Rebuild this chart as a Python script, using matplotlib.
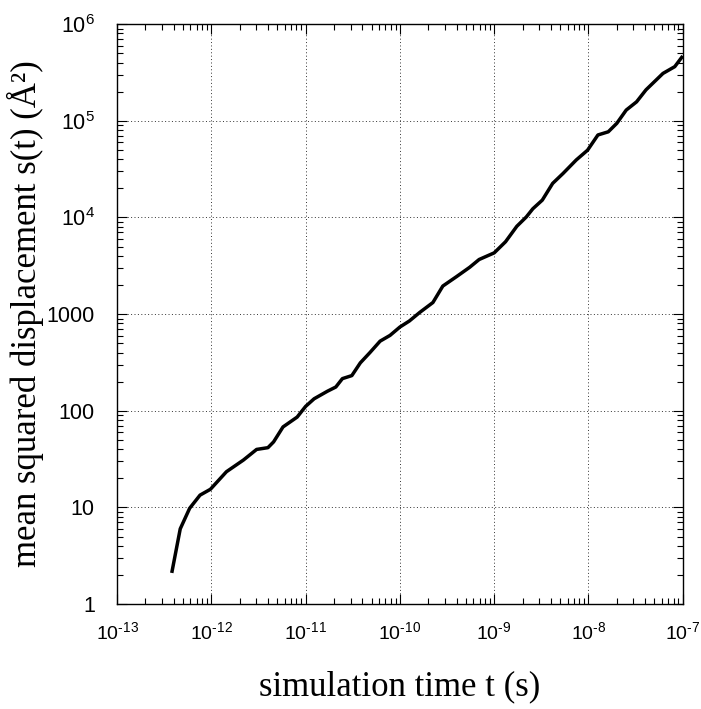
import matplotlib
matplotlib.use('Agg')
import matplotlib.pyplot as plt
import numpy as np
from matplotlib.ticker import LogLocator, FixedLocator, FixedFormatter, NullFormatter

plt.rcParams['mathtext.fontset'] = 'custom'
plt.rcParams['mathtext.rm'] = 'Liberation Sans'
plt.rcParams['mathtext.it'] = 'Liberation Sans'

# log10(t) and s(t)
log_t = [-12.42, -12.33, -12.23, -12.12, -12.01, -11.84, -11.66, -11.52, -11.40,
         -11.34, -11.24, -11.09, -11.0, -10.91, -10.77, -10.68, -10.61, -10.51,
         -10.42, -10.32, -10.21, -10.105, -10.0, -9.9, -9.79, -9.65, -9.545,
         -9.40, -9.26, -9.16, -9.0, -8.88, -8.76, -8.66, -8.59, -8.49, -8.38,
         -8.27, -8.13, -8.01, -7.90, -7.79, -7.70, -7.60, -7.49, -7.39, -7.21,
         -7.085, -7.0]
msd = [2.1, 6.0, 9.8, 13.4, 15.4, 23.4, 30.9, 39.8, 41.5,
       47.6, 68, 86, 111, 133, 159, 176, 215, 231,
       313, 398, 525, 602, 735, 848, 1040, 1318, 1950,
       2440, 3050, 3670, 4300, 5600, 8100, 10100, 12300, 15100, 22500,
       28500, 39300, 49600, 71300, 76900, 94000, 129000, 157000, 209000, 309000,
       363000, 468000]
t = 10.0 ** np.array(log_t)

x_ticks = [1e-13, 1e-12, 1e-11, 1e-10, 1e-9, 1e-8, 1e-7]
x_labels = [r'$\mathregular{10^{‐13}}$', r'$\mathregular{10^{‐12}}$', r'$\mathregular{10^{‐11}}$',
            r'$\mathregular{10^{‐10}}$', r'$\mathregular{10^{‐9}}$', r'$\mathregular{10^{‐8}}$',
            r'$\mathregular{10^{‐7}}$']
y_ticks = [1, 10, 100, 1000, 1e4, 1e5, 1e6]
y_labels = ['1', '10', '100', '1000', r'$\mathregular{10^{4}}$', r'$\mathregular{10^{5}}$',
            r'$\mathregular{10^{6}}$']

fig = plt.figure(figsize=(7.01, 7.09), dpi=100)
ax = fig.add_axes([0.167, 0.148, 0.807, 0.818])

ax.plot(t, msd, color='black', linewidth=2.5, solid_capstyle='butt')
ax.set_xscale('log')
ax.set_yscale('log')
ax.set_xlim(1e-13, 1e-7)
ax.set_ylim(1, 1e6)

ax.xaxis.set_major_locator(FixedLocator(x_ticks))
ax.xaxis.set_major_formatter(FixedFormatter(x_labels))
ax.yaxis.set_major_locator(FixedLocator(y_ticks))
ax.yaxis.set_major_formatter(FixedFormatter(y_labels))
ax.xaxis.set_minor_locator(LogLocator(base=10, subs=np.arange(2, 10), numticks=20))
ax.yaxis.set_minor_locator(LogLocator(base=10, subs=np.arange(2, 10), numticks=20))
ax.xaxis.set_minor_formatter(NullFormatter())
ax.yaxis.set_minor_formatter(NullFormatter())

ax.tick_params(which='both', direction='in', top=True, right=True, width=0.8)
ax.tick_params(which='major', length=7)
ax.tick_params(axis='x', which='major', pad=12, labelsize=14)
ax.tick_params(axis='y', which='major', pad=16, labelsize=15.5)
ax.tick_params(which='minor', length=4)
for lab in ax.get_xticklabels() + ax.get_yticklabels():
    lab.set_family('Liberation Sans')

ax.grid(True, which='major', linestyle=(0, (1, 2.5)), color='#333333', linewidth=0.7)
for sp in ax.spines.values():
    sp.set_linewidth(1.0)

ax.set_xlabel('simulation time t (s)', family='Liberation Serif', fontsize=25, labelpad=20)
ax.set_ylabel('mean squared displacement s(t) (Å²)', family='Liberation Serif', fontsize=25, labelpad=2)

fig.savefig('out.png', dpi=100)
